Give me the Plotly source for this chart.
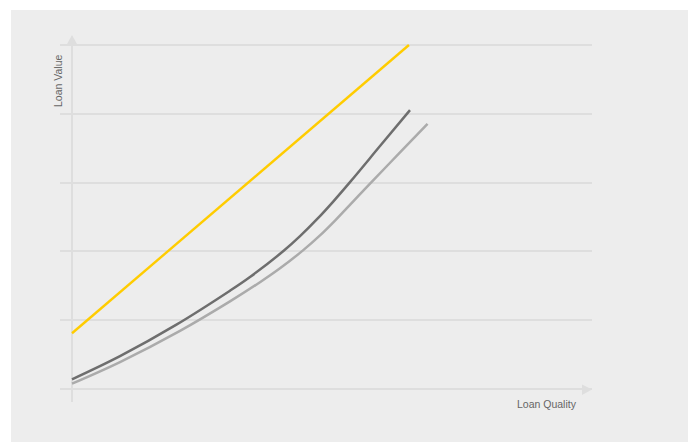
import plotly.graph_objects as go

# Loan value curves against loan quality (arbitrary units)
yellow_x = [0.0, 6.48]
yellow_y = [0.81, 5.0]

dark_x = [0.0, 0.923, 2.0, 3.038, 3.423, 4.077, 4.385, 4.712, 5.019, 5.346, 5.923, 6.5]
dark_y = [0.141, 0.478, 0.932, 1.429, 1.628, 2.012, 2.221, 2.468, 2.721, 3.007, 3.531, 4.054]

light_x = [0.0, 0.923, 2.077, 3.038, 3.615, 4.0, 4.442, 4.769, 5.058, 5.404, 5.75, 6.308, 6.837]
light_y = [0.077, 0.391, 0.844, 1.273, 1.552, 1.754, 2.015, 2.233, 2.449, 2.725, 3.001, 3.438, 3.852]

W, H = 688, 442
L, R, T, B = 60, 96, 30, 32
PW, PH = W - L - R, H - T - B

def px(x):
    return (x - L) / PW

def py(y):
    return (H - B - y) / PH

GRID = "#dedede"
fig = go.Figure()
fig.add_trace(go.Scatter(x=light_x, y=light_y, mode="lines",
                         line=dict(color="#ababab", width=2.5, shape="spline", smoothing=1.0),
                         hoverinfo="skip"))
fig.add_trace(go.Scatter(x=dark_x, y=dark_y, mode="lines",
                         line=dict(color="#6e6e6e", width=2.5, shape="spline", smoothing=1.0),
                         hoverinfo="skip"))
fig.add_trace(go.Scatter(x=yellow_x, y=yellow_y, mode="lines",
                         line=dict(color="#ffcc00", width=2.4), hoverinfo="skip"))

shapes = [
    # panel background
    dict(type="rect", xref="paper", yref="paper", layer="below",
         x0=px(11), x1=px(W + 5), y0=py(H + 5), y1=py(10),
         fillcolor="#ededed", line=dict(width=0)),
    # vertical axis line
    dict(type="line", xref="paper", yref="paper", layer="below",
         x0=px(72), x1=px(72), y0=py(402), y1=py(44),
         line=dict(color=GRID, width=2)),
    # vertical axis arrowhead
    dict(type="path", xref="paper", yref="paper", layer="below",
         path=f"M {px(66.5)} {py(45)} L {px(77.5)} {py(45)} L {px(72)} {py(35)} Z",
         fillcolor=GRID, line=dict(width=0)),
    # horizontal axis arrowhead
    dict(type="path", xref="paper", yref="paper", layer="below",
         path=f"M {px(582)} {py(384.5)} L {px(582)} {py(395)} L {px(592)} {py(389.5)} Z",
         fillcolor=GRID, line=dict(width=0)),
]

annotations = [
    dict(text="Loan Value", xref="paper", yref="paper", x=px(58), y=py(81),
         showarrow=False, textangle=-90, xanchor="center", yanchor="middle",
         font=dict(size=10.5, color="#666666")),
    dict(text="Loan Quality", xref="paper", yref="paper", x=px(547), y=py(404),
         showarrow=False, xanchor="center", yanchor="middle",
         font=dict(size=10.5, color="#666666")),
]

y_unit = 68.8
fig.update_layout(
    width=W, height=H,
    margin=dict(l=L, r=R, t=T, b=B),
    paper_bgcolor="white",
    plot_bgcolor="rgba(0,0,0,0)",
    showlegend=False,
    font=dict(family="Liberation Sans, Arial, sans-serif"),
    shapes=shapes,
    annotations=annotations,
    xaxis=dict(range=[(L - 72) / 52, (L + PW - 72) / 52], showgrid=False,
               zeroline=False, showticklabels=False, showline=False, ticks=""),
    yaxis=dict(range=[-(T + PH - 389) / y_unit, (389 - T) / y_unit],
               showgrid=True, gridcolor=GRID, gridwidth=2, dtick=1, tick0=0,
               zeroline=False, showticklabels=False, showline=False, ticks=""),
)

fig.write_html("out.html")
